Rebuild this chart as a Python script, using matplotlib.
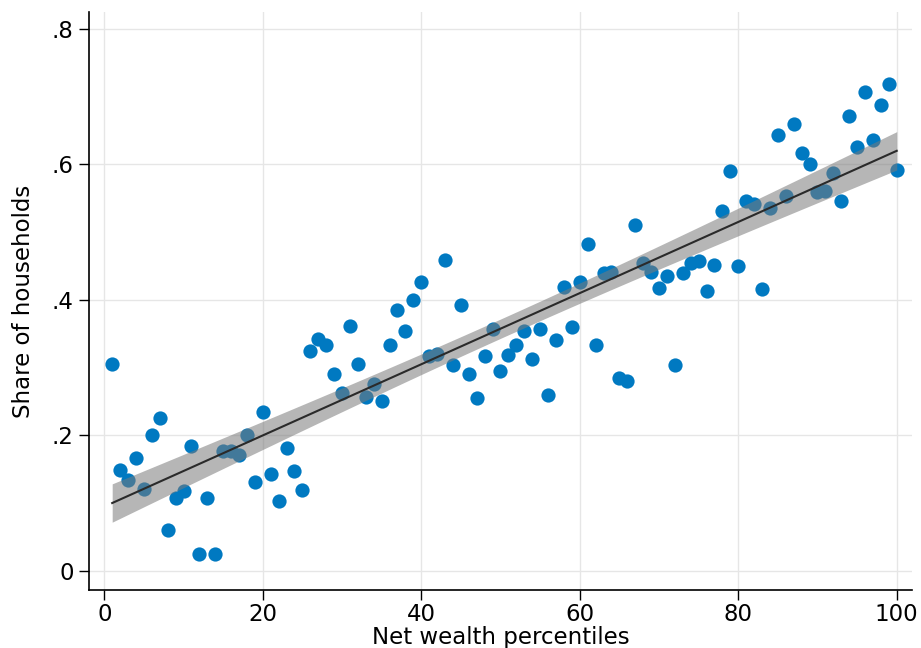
import numpy as np
import matplotlib.pyplot as plt

# net wealth percentile (1..100) and share of households
percentile = np.arange(1, 101)
share = [
    0.305, 0.149, 0.134, 0.167, 0.121, 0.200, 0.225, 0.060, 0.108, 0.118,
    0.184, 0.025, 0.108, 0.025, 0.177, 0.177, 0.171, 0.200, 0.131, 0.234,
    0.143, 0.103, 0.182, 0.147, 0.119, 0.324, 0.342, 0.333, 0.290, 0.262,
    0.361, 0.305, 0.256, 0.276, 0.251, 0.333, 0.385, 0.354, 0.400, 0.426,
    0.317, 0.320, 0.458, 0.304, 0.393, 0.290, 0.255, 0.317, 0.357, 0.295,
    0.318, 0.333, 0.354, 0.312, 0.357, 0.259, 0.340, 0.419, 0.360, 0.426,
    0.483, 0.333, 0.439, 0.441, 0.284, 0.280, 0.510, 0.455, 0.441, 0.417,
    0.435, 0.304, 0.439, 0.454, 0.457, 0.413, 0.451, 0.531, 0.590, 0.450,
    0.545, 0.542, 0.416, 0.536, 0.643, 0.553, 0.659, 0.616, 0.601, 0.559,
    0.561, 0.587, 0.545, 0.671, 0.626, 0.706, 0.635, 0.687, 0.719, 0.591,
]
x_ticks = [0, 20, 40, 60, 80, 100]
y_ticks = [0, 0.2, 0.4, 0.6, 0.8]
y_tick_labels = ['0', '.2', '.4', '.6', '.8']

x = percentile.astype(float)
y = np.array(share)

# linear fit with 95% CI of the prediction mean (like Stata lfitci)
n = len(x)
b, a = np.polyfit(x, y, 1)
resid = y - (a + b * x)
s = np.sqrt(np.sum(resid ** 2) / (n - 2))
sxx = np.sum((x - x.mean()) ** 2)
t = 1.9845  # t(0.975, 98)
xf = np.linspace(x.min(), x.max(), 200)
yf = a + b * xf
se = s * np.sqrt(1 / n + (xf - x.mean()) ** 2 / sxx)

plt.rcParams['font.family'] = ['DejaVu Sans']
fig = plt.figure(figsize=(9.21, 6.48), dpi=100)
ax = fig.add_axes([0.0966, 0.0895, 0.894, 0.8915])

ax.scatter(x, y, s=105, color='#0079c1', linewidths=0, zorder=2)
ax.fill_between(xf, yf - t * se, yf + t * se, color='#7a7a7a', alpha=0.55,
                linewidth=0, zorder=3)
ax.plot(xf, yf, color='#2a2a2a', linewidth=1.5, zorder=4)

ax.set_xlim(-1.93, 101.97)
ax.set_ylim(-0.028, 0.824)
ax.set_xticks(x_ticks)
ax.set_yticks(y_ticks)
ax.set_yticklabels(y_tick_labels)
ax.grid(True, color='#e6e6e6', linewidth=1.0, zorder=0)
ax.set_axisbelow(True)
for side in ['top', 'right']:
    ax.spines[side].set_visible(False)
for side in ['left', 'bottom']:
    ax.spines[side].set_linewidth(1.2)
ax.tick_params(axis='both', direction='out', length=7, width=1.0,
               labelsize=16.5, pad=2)
ax.tick_params(axis='y', pad=4)
ax.set_xlabel('Net wealth percentiles', fontsize=16.5, labelpad=0)
ax.set_ylabel('Share of households', fontsize=16.5, labelpad=12)

fig.savefig('out.png', dpi=100)
